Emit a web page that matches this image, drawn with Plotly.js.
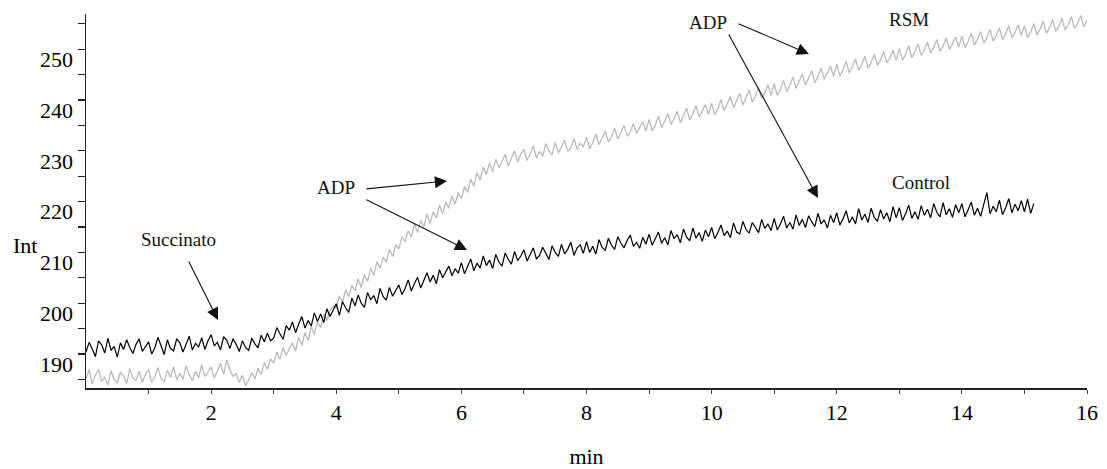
<!DOCTYPE html>
<html>
<head>
<meta charset="utf-8">
<script src="https://cdn.plot.ly/plotly-3.0.1.min.js"></script>
<style>html,body{margin:0;padding:0;background:#fff;}#chart{width:1107px;height:469px;}</style>
</head>
<body>
<div id="chart"></div>
<script>
// Sampling: both traces start at 0 min, one reading every 0.05 min
const T0 = 0;
const DT = 0.05;

// Control (black), 0 .. 15.15 min
const controlInt = [
190.4,192.3,191.0,189.5,192.6,191.8,190.2,193.1,190.7,191.5,189.4,192.2,190.9,192.8,191.3,190.1,191.9,193.0,190.5,191.6,
192.4,190.0,191.2,193.3,191.7,189.9,192.8,191.1,190.6,193.0,192.2,190.4,191.9,193.5,190.8,192.1,191.4,193.2,190.9,192.6,
193.8,191.6,192.3,190.8,193.4,192.7,191.1,193.0,191.9,190.5,192.6,191.3,190.7,193.1,192.0,191.2,193.7,192.4,194.1,192.6,
193.1,195.2,194.0,192.9,195.6,194.7,196.3,194.2,195.9,197.4,195.1,196.6,195.5,198.1,196.4,197.9,196.2,198.9,197.4,198.5,
199.9,197.6,200.3,199.1,198.2,201.0,199.5,201.6,200.0,199.2,202.1,200.7,201.5,199.9,202.9,201.3,200.6,203.1,201.4,202.5,
203.6,201.7,202.9,204.6,202.4,203.9,205.1,203.0,204.4,206.0,204.2,205.5,203.8,206.6,205.0,206.1,207.3,205.4,206.8,205.9,
208.0,205.8,207.1,208.7,206.4,207.9,206.9,209.3,207.4,208.5,206.8,209.6,208.1,207.3,209.9,208.6,207.7,210.2,208.4,209.3,
210.5,208.3,209.6,210.9,208.7,209.4,211.0,209.8,208.6,211.3,210.0,209.2,211.6,209.7,210.6,212.0,209.4,210.9,211.5,209.8,
212.1,210.0,211.2,209.7,212.5,211.0,210.4,212.8,211.4,210.6,213.1,211.8,210.9,212.4,213.4,211.2,212.0,210.8,213.0,211.6,
213.6,211.4,212.6,214.0,211.8,212.9,211.5,214.3,212.7,213.5,211.9,214.6,213.0,212.3,214.8,212.8,213.9,212.2,214.4,213.1,
214.9,212.7,213.9,215.4,213.3,214.2,212.9,215.8,214.0,213.6,216.1,214.5,213.8,215.9,214.9,213.9,216.5,214.7,215.6,214.3,
216.7,214.4,215.6,217.1,214.8,215.9,214.6,217.4,215.3,216.5,214.9,217.2,216.0,215.1,217.7,215.6,216.4,214.8,217.3,215.9,
217.8,215.4,216.6,218.2,215.8,217.0,215.6,218.6,216.4,217.5,215.9,218.7,216.9,216.1,218.4,216.6,217.8,216.0,219.0,216.8,
218.8,216.3,217.6,219.3,216.7,218.0,216.5,219.2,217.3,218.5,216.8,219.6,217.9,217.0,219.8,217.4,218.6,216.9,219.4,217.8,
219.6,217.0,218.4,219.9,217.3,218.7,217.1,219.4,221.8,217.6,219.1,218.0,220.3,217.4,218.8,220.6,217.8,219.5,218.2,220.2,
218.0,220.5,217.7,219.6
];

// RSM (grey), 0 .. 16 min
const rsmInt = [
185.2,186.9,184.1,185.8,187.0,184.6,185.5,183.9,186.7,185.0,184.3,186.4,185.7,184.2,187.1,185.3,184.8,186.6,184.4,186.0,
186.9,184.4,185.6,187.3,185.1,184.6,186.8,185.4,187.5,184.9,186.2,185.0,187.7,185.9,184.8,186.6,185.3,187.9,185.6,186.4,
187.5,185.3,186.6,188.2,186.0,188.8,186.9,185.6,186.2,184.4,185.8,183.8,184.9,186.3,185.1,187.2,186.0,188.3,187.0,189.1,
188.2,190.4,189.0,191.2,189.8,190.9,192.2,190.6,193.3,191.7,194.2,192.6,195.4,193.9,196.3,195.2,197.9,196.6,198.5,199.4,
199.0,201.4,200.2,202.6,201.3,203.5,202.4,204.8,203.1,205.6,204.3,206.9,205.5,208.2,206.9,209.0,208.1,210.6,209.2,211.5,
210.7,213.0,212.1,214.3,213.0,215.6,213.9,216.3,215.0,217.6,215.7,218.0,216.8,219.3,217.6,219.9,218.7,221.1,219.5,221.8,
220.6,223.0,221.8,224.4,223.1,225.7,224.2,226.8,225.3,227.6,225.9,228.3,226.7,227.9,229.3,227.0,228.6,230.0,227.8,229.4,
230.3,228.1,229.4,231.0,228.6,229.9,228.9,231.4,230.0,229.2,231.7,229.6,230.8,232.1,229.9,230.6,232.4,230.3,231.5,230.8,
232.7,230.4,231.6,233.3,231.2,232.4,233.9,231.7,232.8,234.4,232.3,233.6,235.0,232.9,233.8,235.4,233.4,234.6,235.7,233.9,
236.2,233.9,235.1,236.8,234.6,235.8,237.3,235.2,236.3,237.8,235.6,236.9,238.4,236.1,237.2,238.9,236.7,237.8,239.1,237.2,
239.4,237.1,238.3,240.1,237.9,239.2,240.7,238.5,239.8,241.3,239.0,240.4,242.0,239.6,240.8,242.5,240.3,241.4,243.0,240.9,
243.2,240.9,242.1,243.9,241.6,242.9,244.5,242.3,243.6,245.1,242.9,244.2,245.8,243.4,244.6,246.3,244.1,245.3,246.7,244.7,
247.0,244.7,245.9,247.6,245.3,246.6,248.1,245.8,247.0,248.6,246.3,247.4,249.0,246.8,247.9,249.5,247.3,248.3,249.8,247.8,
250.1,247.8,249.0,250.7,248.3,249.6,251.0,248.8,249.9,251.4,249.2,250.3,251.9,249.6,250.6,252.2,250.0,251.1,252.4,250.4,
252.6,250.3,251.5,253.2,250.8,252.0,253.5,251.2,252.3,253.9,251.6,252.7,254.2,251.9,253.0,254.6,252.3,253.3,254.8,252.7,
254.6,252.3,253.4,255.1,252.8,254.0,255.5,253.1,254.2,255.8,253.5,254.5,256.1,253.8,254.8,256.4,254.1,255.1,256.6,254.4,
255.7
];

const xTickVals = [2, 4, 6, 8, 10, 12, 14, 16];
const xTickText = ["2", "4", "6", "8", "10", "12", "14", "16"];
const yTickVals = [190, 200, 210, 220, 230, 240, 250];
const yTickText = ["190", "200", "210", "220", "230", "240", "250"];

const SERIF = "'Liberation Serif', 'Times New Roman', Times, 'DejaVu Serif', serif";

const traces = [
  {type: "scatter", mode: "lines", name: "RSM", x0: T0, dx: DT, y: rsmInt,
   line: {color: "#bababa", width: 1.3}, hoverinfo: "skip"},
  {type: "scatter", mode: "lines", name: "Control", x0: T0, dx: DT, y: controlInt,
   line: {color: "#000000", width: 1.2}, hoverinfo: "skip"}
];

function label(text, x, y) {
  return {text: text, x: x, y: y, xref: "x", yref: "y", showarrow: false,
          xanchor: "center", yanchor: "middle",
          font: {family: SERIF, size: 19, color: "#111"}};
}
function arrow(tx, ty, hx, hy) {
  return {text: "", x: hx, y: hy, ax: tx, ay: ty, xref: "x", yref: "y",
          axref: "x", ayref: "y", showarrow: true, arrowhead: 2,
          arrowsize: 2.2, arrowwidth: 1.1, arrowcolor: "#111", standoff: 0};
}

const layout = {
  width: 1107, height: 469,
  margin: {l: 86, r: 20, t: 14, b: 81},
  paper_bgcolor: "#fff", plot_bgcolor: "#fff",
  showlegend: false,
  hovermode: false,
  font: {family: SERIF},
  xaxis: {
    range: [0, 16], showgrid: false, zeroline: false,
    showline: true, linecolor: "#222", linewidth: 1.5,
    ticks: "outside", ticklen: 4, tickwidth: 1, tickcolor: "#444",
    tickmode: "array", tickvals: xTickVals, ticktext: xTickText,
    minor: {tickmode: "linear", tick0: 1, dtick: 2, ticks: "outside", ticklen: 4, tickcolor: "#444"},
    tickfont: {family: SERIF, size: 22, color: "#000"},
    title: {text: "min", font: {family: SERIF, size: 22, color: "#000"}, standoff: 24}
  },
  yaxis: {
    range: [183.31, 256.93], showgrid: false, zeroline: false,
    showline: true, linecolor: "#222", linewidth: 1.5,
    ticks: "outside", ticklen: 7, tickwidth: 1.2, tickcolor: "#222",
    tickmode: "array", tickvals: yTickVals, ticktext: yTickText,
    minor: {tickmode: "linear", tick0: 185, dtick: 10, ticks: "outside", ticklen: 7, tickwidth: 1.2, tickcolor: "#222"},
    ticklabelshift: 10,
    tickfont: {family: SERIF, size: 22, color: "#000"}
  },
  annotations: [
    {text: "Int", xref: "paper", yref: "paper", x: -0.061, y: 0.382, showarrow: false,
     xanchor: "center", yanchor: "middle", font: {family: SERIF, size: 22, color: "#000"}},
    label("Succinato", 1.486, 212.64),
    arrow(1.630, 208.50, 2.110, 196.69),
    label("ADP", 3.996, 222.68),
    arrow(4.459, 222.48, 5.770, 224.06),
    arrow(4.459, 220.51, 6.090, 210.47),
    label("ADP", 9.942, 255.35),
    arrow(10.405, 255.16, 11.556, 249.06),
    arrow(10.261, 253.19, 11.700, 220.71),
    label("RSM", 13.155, 255.75),
    label("Control", 13.346, 223.86)
  ]
};

Plotly.newPlot("chart", traces, layout, {staticPlot: true, displayModeBar: false});
</script>
</body>
</html>
